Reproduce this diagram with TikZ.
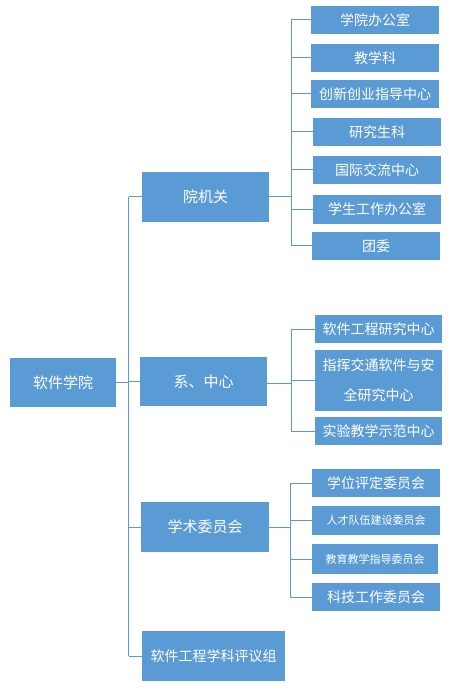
\documentclass[tikz,border=0pt]{standalone}
\usepackage{fontspec}
\setmainfont{Noto Sans CJK SC}
\definecolor{boxblue}{HTML}{5B9BD5}
\tikzset{
  box/.style={fill=boxblue, draw=none, text=white, inner sep=0pt, align=center,
    font=\fontsize{14}{16}\selectfont},
  bigfont/.style={font=\fontsize{15}{17}\selectfont},
  smallfont/.style={font=\fontsize{11}{13}\selectfont},
  conn/.style={draw=boxblue, line width=1pt},
}
\begin{document}
\begin{tikzpicture}[x=1pt,y=-1pt]
\useasboundingbox (0,0) rectangle (454,692);
% root and mid level
\node[box, bigfont, minimum width=106, minimum height=49] (root) at (63,382.5) {软件学院};
\node[box, bigfont, minimum width=127, minimum height=50] (m1) at (205.5,197) {院机关};
\node[box, bigfont, minimum width=127, minimum height=49] (m2) at (203.5,381.5) {系、中心};
\node[box, bigfont, minimum width=128, minimum height=50] (m3) at (205,527) {学术委员会};
\node[box, minimum width=143, minimum height=50] (m4) at (213.5,656) {软件工程学科评议组};
% group 1
\node[box, minimum width=128, minimum height=28] (a1) at (375,20) {学院办公室};
\node[box, minimum width=128, minimum height=28] (a2) at (375,58) {教学科};
\node[box, minimum width=128, minimum height=28] (a3) at (375,94) {创新创业指导中心};
\node[box, minimum width=128, minimum height=28] (a4) at (377,132) {研究生科};
\node[box, minimum width=128, minimum height=28] (a5) at (377,170) {国际交流中心};
\node[box, minimum width=128, minimum height=29] (a6) at (377,209.5) {学生工作办公室};
\node[box, minimum width=128, minimum height=28] (a7) at (376,246) {团委};
% group 2
\node[box, minimum width=127, minimum height=28] (b1) at (378.5,329) {软件工程研究中心};
\node[box, minimum width=127, minimum height=61, font=\fontsize{14}{30}\selectfont] (b2) at (378.5,380.5) {指挥交通软件与安\\全研究中心};
\node[box, minimum width=127, minimum height=28] (b3) at (378.5,431) {实验教学示范中心};
% group 3
\node[box, minimum width=128, minimum height=28] (c1) at (376,483) {学位评定委员会};
\node[box, smallfont, minimum width=128, minimum height=29] (c2) at (376,520.5) {人才队伍建设委员会};
\node[box, smallfont, minimum width=126, minimum height=30] (c3) at (375,559) {教育教学指导委员会};
\node[box, minimum width=128, minimum height=28] (c4) at (376,597) {科技工作委员会};
% bus coordinates
\coordinate (trunk) at (128.5,0);
\coordinate (busA) at (291,0);
\coordinate (busB) at (291,0);
\coordinate (busC) at (290,0);
% trunk
\draw[conn] (root.east) -- (root.east -| trunk);
\draw[conn] (trunk |- m1) -- (trunk |- m4);
\foreach \n in {m1,m2,m3,m4} \draw[conn] (trunk |- \n) -- (\n.west);
% group 1 connectors
\draw[conn] (m1.east) -- (m1.east -| busA);
\draw[conn] (busA |- a1) -- (busA |- a7);
\foreach \n in {a1,a2,a3,a4,a5,a6,a7} \draw[conn] (busA |- \n) -- (\n.west);
% group 2 connectors
\draw[conn] ([yshift=-1.5]m2.east) -- ([yshift=-1.5]m2.east -| busB);
\draw[conn] (busB |- b1) -- (busB |- b3);
\foreach \n in {b1,b2,b3} \draw[conn] (busB |- \n) -- (\n.west);
% group 3 connectors
\draw[conn] (m3.east) -- (m3.east -| busC);
\draw[conn] (busC |- c1) -- (busC |- c4);
\foreach \n in {c1,c2,c3,c4} \draw[conn] (busC |- \n) -- (\n.west);
\end{tikzpicture}
\end{document}
